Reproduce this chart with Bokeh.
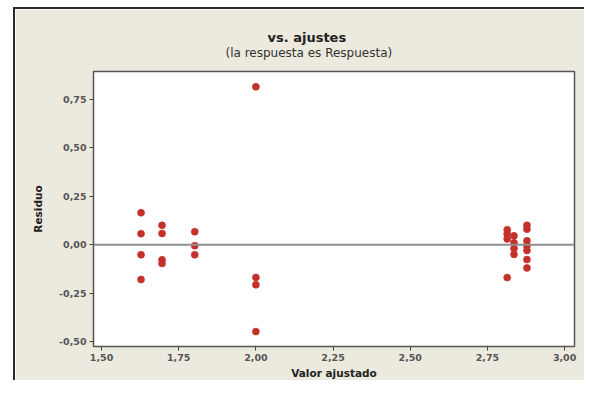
from bokeh.plotting import figure
from bokeh.models import (ColumnDataSource, Range1d, FixedTicker, CustomJSTickFormatter,
                          Span, Title, Spacer)
from bokeh.layouts import row, column
from bokeh.embed import file_html
from bokeh.resources import INLINE

# fitted values and residuals
fitted = [1.628, 1.628, 1.628, 1.628,
          1.696, 1.696, 1.696, 1.696,
          1.802, 1.802, 1.802,
          2.000, 2.000, 2.000, 2.000,
          2.814, 2.814, 2.814, 2.814,
          2.836, 2.836, 2.836, 2.836,
          2.878, 2.878, 2.878, 2.878, 2.878, 2.878, 2.878]
residual = [0.165, 0.057, -0.052, -0.180,
            0.100, 0.058, -0.078, -0.097,
            0.067, -0.005, -0.052,
            0.816, -0.169, -0.207, -0.449,
            0.077, 0.055, 0.030, -0.170,
            0.046, 0.010, -0.020, -0.050,
            0.100, 0.080, 0.020, -0.005, -0.030, -0.077, -0.120]

x_ticks = [1.50, 1.75, 2.00, 2.25, 2.50, 2.75, 3.00]
y_ticks = [-0.50, -0.25, 0.00, 0.25, 0.50, 0.75]

title_text = "vs. ajustes"
subtitle_text = "(la respuesta es Respuesta)"
x_label = "Valor ajustado"
y_label = "Residuo"

BG = "#ece9df"
FONT = "DejaVu Sans"

X0, X1 = 1.474, 3.032
Y0, Y1 = -0.526, 0.895

p = figure(width=571, height=373, output_backend="svg", toolbar_location=None,
           x_range=Range1d(X0, X1), y_range=Range1d(Y0, Y1),
           min_border_left=78, min_border_right=12, min_border_top=62, min_border_bottom=36)
p.background_fill_color = "white"
p.border_fill_color = BG
p.outline_line_color = "#555555"
p.outline_line_width = 1.5
p.grid.visible = False
p.styles = {"border-left": "2px solid #2a2a2a", "border-top": "2px solid #2a2a2a"}

fmt = CustomJSTickFormatter(code="return tick.toFixed(2).replace('.', ',');")
for ax, ticks in ((p.xaxis[0], x_ticks), (p.yaxis[0], y_ticks)):
    ax.ticker = FixedTicker(ticks=ticks)
    ax.formatter = fmt
    ax.minor_tick_line_color = None
    ax.major_tick_out = 4
    ax.major_tick_in = 0
    ax.major_tick_line_color = "#444444"
    ax.axis_line_color = None
    ax.major_label_text_font = FONT
    ax.major_label_text_font_size = "9.5px"
    ax.major_label_text_font_style = "bold"
    ax.major_label_text_color = "#555555"
    ax.axis_label_text_font = FONT
    ax.axis_label_text_font_style = "bold"
    ax.axis_label_text_color = "#222222"
    ax.axis_label_text_font_size = "10.5px"

p.xaxis.axis_label = x_label
p.yaxis.axis_label = y_label
p.xaxis.major_label_standoff = 3
p.yaxis.major_label_standoff = 3
p.xaxis.axis_label_standoff = 3
p.yaxis.axis_label_standoff = 12

p.add_layout(Span(location=0, dimension="width", line_color="#8f8f8f", line_width=2))

src = ColumnDataSource(dict(x=fitted, y=residual))
p.scatter("x", "y", source=src, size=7, fill_color="#c4302a", line_color="#c4302a",
          line_alpha=0.6)

p.add_layout(Title(text=subtitle_text, align="left", offset=132, standoff=24,
                   text_font=FONT, text_font_size="12px", text_font_style="normal",
                   text_color="#333333"), "above")
p.add_layout(Title(text=title_text, align="left", offset=174, standoff=-26,
                   text_font=FONT, text_font_size="13px", text_font_style="bold",
                   text_color="#222222"), "above")

layout = column(Spacer(width=584, height=7), row(Spacer(width=13, height=373), p))
open("out.html", "w").write(file_html(layout, INLINE))
